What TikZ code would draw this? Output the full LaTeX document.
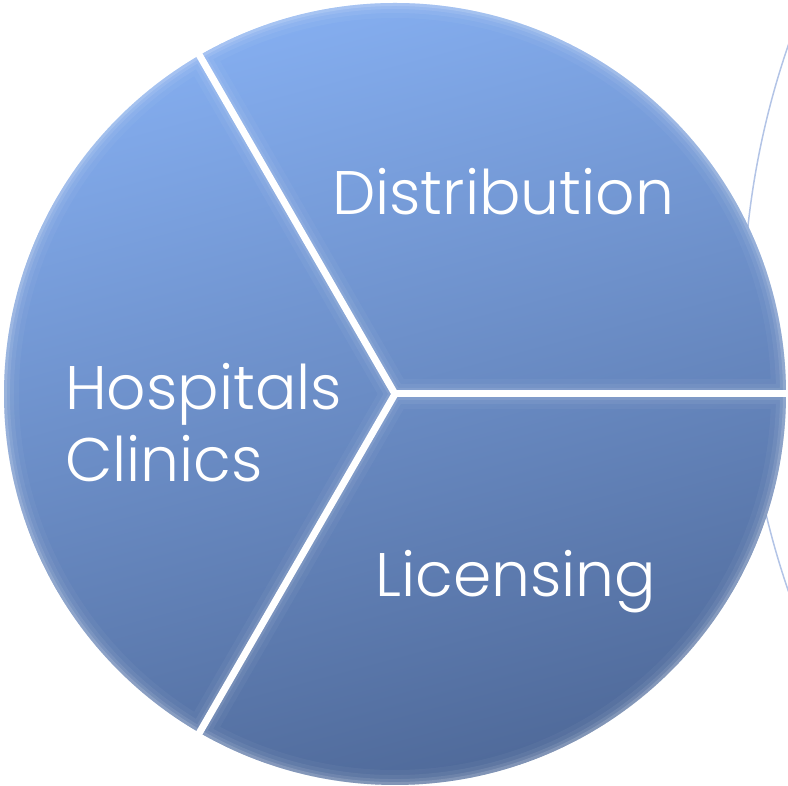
\documentclass[tikz,border=0pt]{standalone}
\usepackage{fontspec}
\setmainfont{Poppins}[UprightFont={* Light}]
\definecolor{ctop}{HTML}{8EBAFF}
\definecolor{cbot}{HTML}{4A6391}
\definecolor{arcc}{HTML}{B3C4E6}
\pgfdeclareverticalshading{pieshade}{100bp}{color(0bp)=(cbot); color(20bp)=(cbot); color(84bp)=(ctop); color(100bp)=(ctop)}
\tikzset{
  sep/.style={white, line width=7pt},
  lbl/.style={text=white, font=\fontsize{61.5}{70}\selectfont, inner sep=0pt},
}
\begin{document}
\begin{tikzpicture}[x=1pt,y=1pt]
\useasboundingbox (0,0) rectangle (788,786);
\coordinate (c) at (395,392);
% faint outer arc
\begin{scope}
\clip (0,0) rectangle (788,786);
\draw[arcc, line width=1.5pt] (1583,468) circle[radius=840];
\end{scope}
% disc
\shade[shading=pieshade, shading angle=15] (c) circle[radius=391];
% soft inner edges of sectors
\foreach \a/\b in {0/120,120/240,240/360}{
  \begin{scope}
    \clip (c) -- ++(\a:391) arc[start angle=\a, end angle=\b, radius=391] -- cycle;
    \foreach \w/\o in {30/0.04,20/0.06,12/0.09,6/0.14}{
      \draw[white, line width=\w pt, opacity=\o] (c) -- ++(\a:391) arc[start angle=\a, end angle=\b, radius=391] -- cycle;
    }
  \end{scope}
}
% separators
\draw[sep] (c) -- ++(0:400) coordinate (e0);
\draw[sep] (c) -- ++(120:400) coordinate (e1);
\draw[sep] (c) -- ++(240:400) coordinate (e2);
% labels
\node[lbl, anchor=base] (dist) at (503,571) {Distribution};
\node[lbl, anchor=base west] (hosp) at (65,376) {Hospitals};
\node[lbl, anchor=base west] (clin) at (65,304) {Clinics};
\node[lbl, anchor=base] (lic) at (516,189) {Licensing};
\end{tikzpicture}
\end{document}
